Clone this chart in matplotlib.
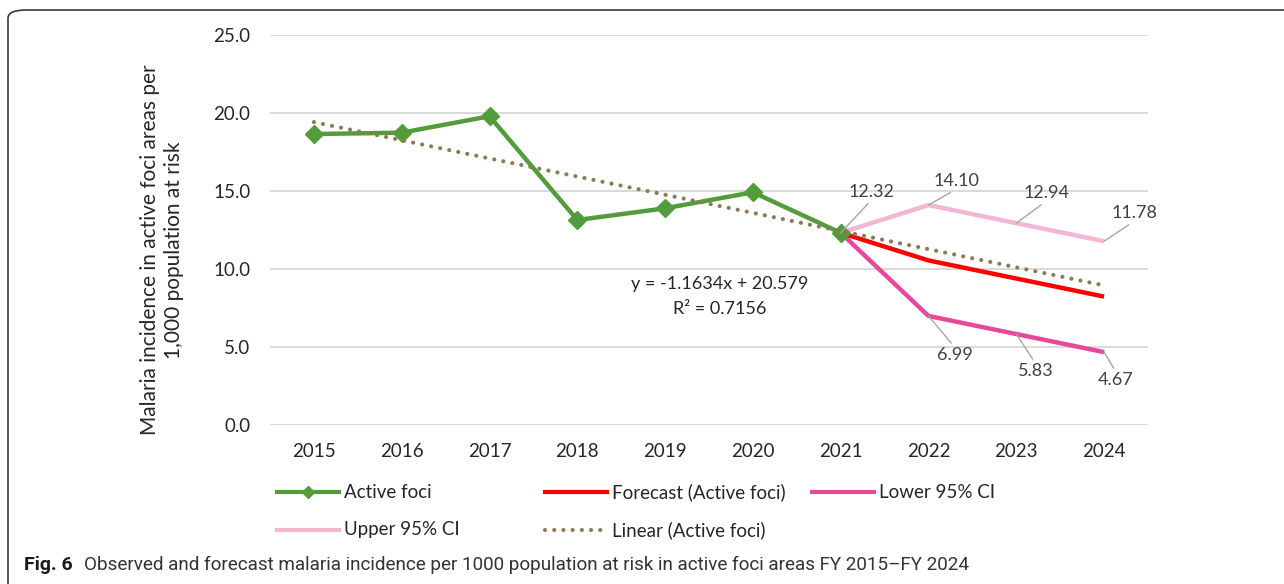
import matplotlib.pyplot as plt
import numpy as np
from matplotlib.lines import Line2D
from matplotlib.patches import FancyBboxPatch

# data
years = ['2015', '2016', '2017', '2018', '2019', '2020', '2021', '2022', '2023', '2024']
active_foci = [18.65, 18.74, 19.79, 13.14, 13.89, 14.92, 12.32]
forecast = [12.32, 10.55, 9.39, 8.23]
lower_ci = [12.32, 6.99, 5.83, 4.67]
upper_ci = [12.32, 14.10, 12.94, 11.78]
trend_slope = -1.1634
trend_intercept = 20.579

plt.rcParams['font.family'] = ['Lato', 'DejaVu Sans']

W, H = 1284, 584
fig = plt.figure(figsize=(W / 100, H / 100), dpi=100)

def fx(px):
    return px / W

def fy(py):
    return 1 - py / H

ax = fig.add_axes([fx(270), fy(425), fx(1148) - fx(270), fy(35) - fy(425)])

x_all = np.arange(len(years))
x_act = x_all[:len(active_foci)]
x_fc = x_all[len(active_foci) - 1:]

green = '#529C3A'
pink_lo = '#E6489A'
pink_hi = '#F4B6D3'
trend_col = '#8B7B55'
ax.plot(x_fc, upper_ci, color=pink_hi, lw=3.2, zorder=3, solid_capstyle='butt')
ax.plot(x_fc, lower_ci, color=pink_lo, lw=3.2, zorder=3, solid_capstyle='butt')
ax.plot(x_fc, forecast, color='#FF0000', lw=3.2, zorder=3, solid_capstyle='butt')
ax.plot(x_act, active_foci, color=green, lw=3.2, marker='D', markersize=9.5, zorder=4)

trend_x = np.arange(1, len(years) + 1)
trend_y = trend_slope * trend_x + trend_intercept
ax.plot(x_all, trend_y, color=trend_col, lw=3, linestyle=(0, (0.01, 2.2)),
        dash_capstyle='round', zorder=5)

ax.set_xlim(-0.5, len(years) - 0.5)
ax.set_ylim(0, 25)
ax.set_yticks(np.arange(0, 26, 5))
ax.set_yticklabels([f'{v:.1f}' for v in np.arange(0, 26, 5)])
ax.set_xticks(x_all)
ax.set_xticklabels(years)
ax.tick_params(length=0, labelsize=13.5, labelcolor='#262626')
ax.tick_params(axis='y', pad=14)
ax.tick_params(axis='x', pad=13)
ax.grid(axis='y', color='#D9D9D9', lw=1.4)
ax.set_axisbelow(True)
for s in ax.spines.values():
    s.set_visible(False)

# data labels with leader lines
label_offsets = {
    'upper': [(31, 41), (28, 24), (30, 30), (30, 28)],
    'lower': [None, (26, -39), (19, -37), (12, -28)],
}
for series, key in [(upper_ci, 'upper'), (lower_ci, 'lower')]:
    for i, (xv, v) in enumerate(zip(x_fc, series)):
        off = label_offsets[key][i]
        if off is None:
            continue
        rel = (0.5, 0) if off[1] > 0 else (0.5, 1)
        ax.annotate(f'{v:.2f}', xy=(xv, v), xytext=off, textcoords='offset pixels',
                    ha='center', va='center', fontsize=13, color='#404040',
                    arrowprops=dict(arrowstyle='-', color='#A6A6A6', lw=1,
                                    shrinkA=1, shrinkB=0, relpos=rel), zorder=6)

# trendline equation
fig.text(fx(720), fy(284), f'y = {trend_slope}x + {trend_intercept}', ha='center', va='center',
         fontsize=13, color='#262626')
fig.text(fx(720), fy(309), 'R² = 0.7156', ha='center', va='center',
         fontsize=13, color='#262626')

# y label
fig.text(fx(162), fy(250), 'Malaria incidence in active foci areas per\n1,000 population at risk',
         rotation=90, ha='center', va='center', fontsize=15, color='#262626',
         linespacing=1.2)

# legend
legend_items = [
    (277, 492, 'Active foci', dict(color=green, lw=3, marker='D', markersize=6, markevery=[1])),
    (545, 492, 'Forecast (Active foci)', dict(color='#FF0000', lw=3)),
    (812, 492, 'Lower 95% CI', dict(color=pink_lo, lw=3)),
    (277, 530, 'Upper 95% CI', dict(color=pink_hi, lw=3)),
    (545, 530, 'Linear (Active foci)', dict(color=trend_col, lw=3, linestyle=(0, (0.01, 2.2)),
                                             dash_capstyle='round')),
]
for lx, ly, txt, style in legend_items:
    fig.add_artist(Line2D([fx(lx), fx(lx + 31), fx(lx + 62)], [fy(ly)] * 3,
                          transform=fig.transFigure, **style))
    fig.text(fx(lx + 67), fy(ly), txt, ha='left', va='center', fontsize=13.5, color='#262626')

# frame and caption
frame = FancyBboxPatch((fx(8), fy(640)), fx(1340) - fx(8), fy(10) - fy(640),
                       boxstyle='round,pad=0,rounding_size=0.014', transform=fig.transFigure,
                       fill=False, edgecolor='#3A3A3A', lw=1.2)
fig.add_artist(frame)
fig.text(fx(24), fy(565), 'Fig. 6', ha='left', va='center', fontsize=14,
         fontweight='bold', color='#1a1a1a', family='Roboto')
fig.text(fx(84), fy(565),
         'Observed and forecast malaria incidence per 1000 population at risk in active foci areas FY 2015\u2013FY 2024',
         ha='left', va='center', fontsize=13.6, color='#333333', family='Roboto')

fig.savefig('out.png', dpi=100)
